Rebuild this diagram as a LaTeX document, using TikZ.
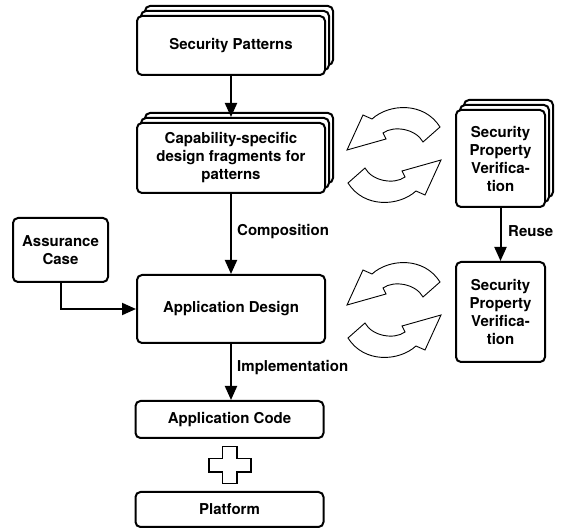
\documentclass[tikz,border=0pt]{standalone}
\usepackage{fontspec}
\setmainfont{TeX Gyre Heros}
\usetikzlibrary{arrows.meta}
\begin{document}
\begin{tikzpicture}[x=1pt,y=-1pt,
  box/.style={draw, line width=2pt, rounded corners=5pt, fill=white, align=center, inner sep=0pt, font=\fontsize{15}{18}\selectfont\bfseries},
  lbl/.style={font=\fontsize{15}{18}\selectfont\bfseries, inner sep=0pt, anchor=west},
  conn/.style={line width=2pt, -{Triangle[length=14pt,width=12pt]}},
  cyc/.style={draw, line width=0.9pt, fill=white, line join=miter},
  plusshape/.style={draw, line width=1.1pt, fill=white},
  wide/.style={minimum width=188pt},
  narrow/.style={minimum width=89pt},
  halfcyc/.pic={\path[cyc] (-47,-3.5) -- (-31,-38.5) -- (-22,-34.5) .. controls (-5,-50) and (30,-52) .. (46,-26.5) -- (29,-11.5) .. controls (22,-24.5) and (0,-28.5) .. (-11,-20.5) -- (-8,-14.5) -- cycle;}]
\useasboundingbox (0,0) rectangle (563,529);

% Security Patterns (stacked)
\node[box, wide, minimum height=59pt] (spb2) at (239,35.5) {};
\node[box, wide, minimum height=59pt] (spb1) at (235,40.5) {};
\node[box, wide, minimum height=59pt] (sp) at (231,45.5) {Security Patterns};

% Capability-specific (stacked)
\node[box, wide, minimum height=70pt] (capb2) at (239,148) {};
\node[box, wide, minimum height=70pt] (capb1) at (235,153) {};
\node[box, wide, minimum height=70pt] (cap) at (231,158) {Capability-specific\\design fragments for\\patterns};

% Assurance case
\node[box, minimum width=95pt, minimum height=64pt] (ac) at (60.5,250) {Assurance\\Case};

% Application design
\node[box, wide, minimum height=68pt] (ad) at (231,309) {Application Design};

% Application code / platform
\node[box, wide, minimum height=37pt] (code) at (229.5,419.5) {Application Code};
\node[box, wide, minimum height=35pt] (plat) at (229.5,509.5) {Platform};

% Security Property Verification (stacked)
\node[box, narrow, minimum height=97pt] (spvb2) at (508.5,148.5) {};
\node[box, narrow, minimum height=97pt] (spvb1) at (504.5,153.5) {};
\node[box, narrow, minimum height=97pt] (spv1) at (500.5,158.5) {Security\\Property\\Verifica-\\tion};
\node[box, narrow, minimum height=100pt] (spv2) at (500.5,312) {Security\\Property\\Verifica-\\tion};

% connectors
\draw[conn] (sp.south) -- (sp.south |- capb1.north);
\draw[conn] (cap.south) -- (ad.north);
\draw[conn] (ac.south) |- (ad.west);
\draw[conn] (ad.south) -- (ad.south |- code.north);
\draw[conn] (spv1.south) -- (spv2.north);

% labels
\node[lbl] (lcomp) at (237,232) {Composition};
\node[lbl] (limpl) at (237,368) {Implementation};
\node[lbl] (lreuse) at (508,231) {Reuse};

% plus sign
\path[plusshape] (222.5,446.5) -- (237,446.5) -- (237,458.5) -- (251,458.5) -- (251,472) -- (237,472) -- (237,483.5) -- (222.5,483.5) -- (222.5,472) -- (209,472) -- (209,458.5) -- (222.5,458.5) -- cycle;

% cycle arrows
\pic at (394,153.5) {halfcyc};
\pic[rotate=180] at (394,156.5) {halfcyc};
\pic at (394,308.5) {halfcyc};
\pic[rotate=180] at (394,311.5) {halfcyc};
\end{tikzpicture}
\end{document}
